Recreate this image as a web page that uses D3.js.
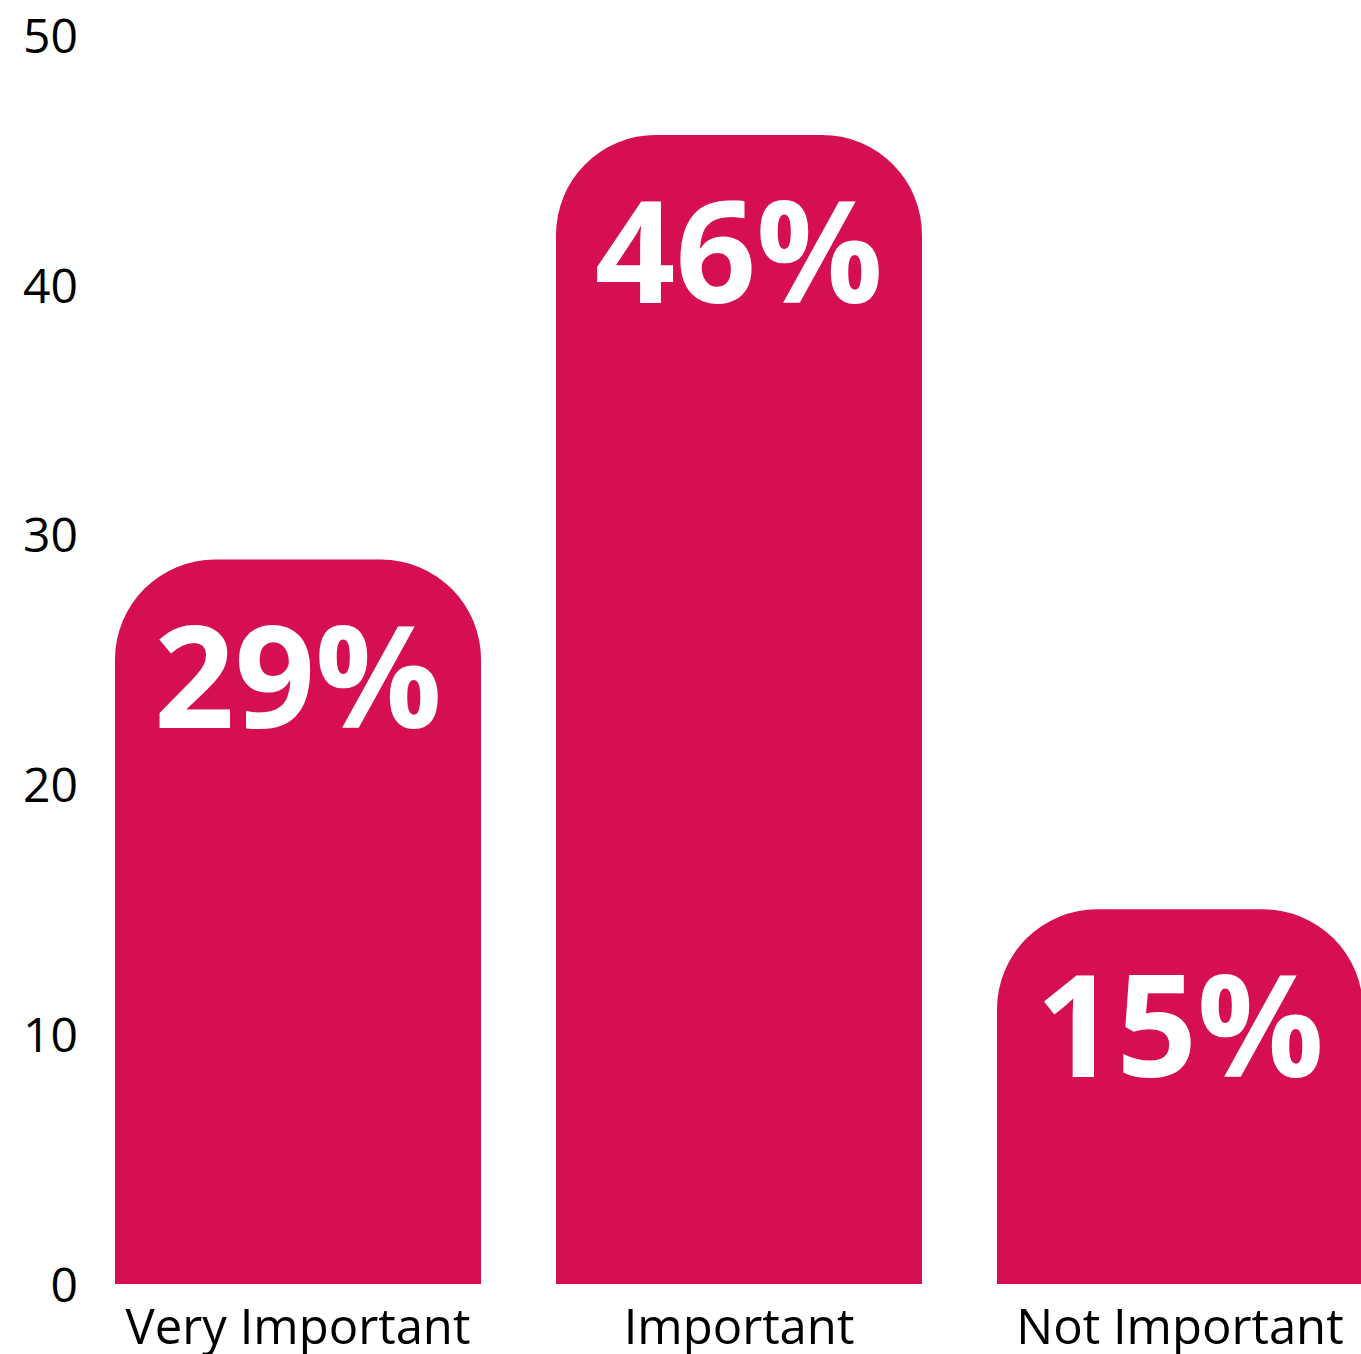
<!DOCTYPE html>
<html>
<head>
<meta charset="utf-8">
<script src="https://cdn.jsdelivr.net/npm/d3@7"></script>
<style>
  html, body { margin: 0; padding: 0; background: #fff; }
  svg { display: block; }
</style>
</head>
<body>
<svg id="chart" width="1361" height="1354"></svg>
<script>
const categories = ["Very Important", "Important", "Not Important"];
const values = [29, 46, 15];
const valueLabels = ["29%", "46%", "15%"];
const yTicks = [0, 10, 20, 30, 40, 50];

const svg = d3.select("#chart");
const barColor = "#d60e52";

const x = d3.scaleBand()
  .domain(categories)
  .range([115, 1363])
  .paddingInner(0.17)
  .paddingOuter(0);

const y = d3.scaleLinear().domain([0, 50]).range([1284, 35]);

// Y axis (labels only)
const yAxis = d3.axisLeft(y).tickValues(yTicks).tickSize(0).tickPadding(0).tickFormat(d3.format("d"));
const gy = svg.append("g").attr("transform", "translate(78,0)").call(yAxis);
gy.select(".domain").remove();
gy.selectAll("text")
  .attr("fill", "#000")
  .attr("font-family", "'Open Sans', sans-serif")
  .attr("font-size", 48)
  .attr("dy", "0.36em");

// Bars with rounded top corners
function barPath(x0, w, yTop, yBot, r) {
  r = Math.min(r, w / 2, yBot - yTop);
  return `M${x0},${yBot}` +
    `L${x0},${yTop + r}` +
    `A${r},${r} 0 0 1 ${x0 + r},${yTop}` +
    `L${x0 + w - r},${yTop}` +
    `A${r},${r} 0 0 1 ${x0 + w},${yTop + r}` +
    `L${x0 + w},${yBot}Z`;
}

svg.append("g").selectAll("path")
  .data(categories)
  .join("path")
  .attr("d", (c, i) => barPath(x(c), x.bandwidth(), y(values[i]), y(0), 100))
  .attr("fill", barColor);

// Value labels
svg.append("g").selectAll("text")
  .data(categories)
  .join("text")
  .attr("x", c => x(c) + x.bandwidth() / 2)
  .attr("y", (c, i) => y(values[i]) + 168)
  .attr("text-anchor", "middle")
  .attr("fill", "#fff")
  .attr("font-family", "'Open Sans', sans-serif")
  .attr("font-weight", 700)
  .attr("font-size", 141)
  .text((c, i) => valueLabels[i]);

// X axis (labels only)
const xAxis = d3.axisBottom(x).tickSize(0).tickPadding(0);
const gx = svg.append("g").attr("transform", "translate(0,1284)").call(xAxis);
gx.select(".domain").remove();
gx.selectAll("text")
  .attr("fill", "#000")
  .attr("font-family", "'Open Sans', sans-serif")
  .attr("font-size", 49)
  .attr("y", 60)
  .attr("dy", 0);
</script>
</body>
</html>
